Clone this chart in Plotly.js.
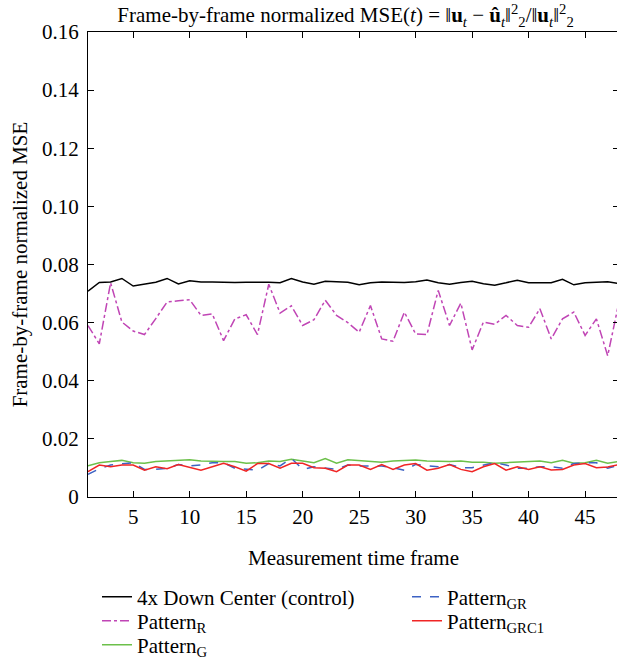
<!DOCTYPE html>
<html>
<head>
<meta charset="utf-8">
<script src="https://cdn.plot.ly/plotly-3.0.1.min.js"></script>
<style>
html,body{margin:0;padding:0;overflow:hidden;background:#fff;}
#chart{width:630px;height:690px;}
</style>
</head>
<body>
<div id="chart"></div>
<script>
// ---- data ----
const frames = [1,2,3,4,5,6,7,8,9,10,11,12,13,14,15,16,17,18,19,20,21,22,23,24,25,26,27,28,29,30,31,32,33,34,35,36,37,38,39,40,41,42,43,44,45,46,47,48];

const downCenter = [0.0708,0.0738,0.0740,0.0752,0.0726,0.0733,0.0739,0.0752,0.0733,0.0744,
  0.0740,0.0740,0.0738,0.0738,0.0739,0.0740,0.0739,0.0737,0.0752,0.0740,
  0.0732,0.0742,0.0740,0.0739,0.0730,0.0737,0.0740,0.0738,0.0738,0.0741,
  0.0747,0.0737,0.0732,0.0738,0.0742,0.0734,0.0729,0.0737,0.0746,0.0737,
  0.0737,0.0737,0.0749,0.0730,0.0737,0.0740,0.0741,0.0734];

const patternR = [0.0590,0.0527,0.0737,0.0602,0.0571,0.0559,0.0614,0.0671,0.0675,0.0679,
  0.0625,0.0630,0.0538,0.0613,0.0627,0.0559,0.0732,0.0633,0.0658,0.0590,
  0.0610,0.0677,0.0625,0.0600,0.0567,0.0659,0.0544,0.0536,0.0636,0.0561,
  0.0559,0.0711,0.0590,0.0667,0.0506,0.0602,0.0594,0.0625,0.0590,0.0584,
  0.0648,0.0544,0.0613,0.0636,0.0556,0.0613,0.0486,0.0671];

const patternG = [0.0107,0.0118,0.0122,0.0126,0.0118,0.0116,0.0122,0.0124,0.0124,0.0128,
  0.0124,0.0122,0.0122,0.0122,0.0116,0.0118,0.0124,0.0122,0.0130,0.0124,
  0.0118,0.0132,0.0116,0.0128,0.0126,0.0124,0.0120,0.0124,0.0126,0.0127,
  0.0124,0.0122,0.0122,0.0124,0.0120,0.0120,0.0116,0.0118,0.0120,0.0120,
  0.0124,0.0118,0.0126,0.0116,0.0118,0.0126,0.0116,0.0122];

const patternGR = [0.0078,0.0097,0.0110,0.0115,0.0118,0.0095,0.0095,0.0099,0.0112,0.0107,
  0.0110,0.0118,0.0118,0.0099,0.0095,0.0092,0.0115,0.0107,0.0133,0.0095,
  0.0104,0.0099,0.0095,0.0110,0.0107,0.0107,0.0107,0.0101,0.0092,0.0112,
  0.0107,0.0104,0.0112,0.0101,0.0101,0.0110,0.0118,0.0110,0.0099,0.0099,
  0.0104,0.0104,0.0099,0.0115,0.0118,0.0118,0.0099,0.0110];

const patternGRC1 = [0.0087,0.0110,0.0104,0.0110,0.0110,0.0092,0.0104,0.0097,0.0112,0.0103,
  0.0092,0.0104,0.0116,0.0104,0.0089,0.0115,0.0115,0.0099,0.0116,0.0116,
  0.0101,0.0099,0.0087,0.0110,0.0110,0.0095,0.0112,0.0095,0.0110,0.0115,
  0.0092,0.0099,0.0112,0.0095,0.0087,0.0104,0.0115,0.0092,0.0104,0.0095,
  0.0104,0.0093,0.0095,0.0110,0.0115,0.0101,0.0103,0.0112];

const xTickVals = [5,10,15,20,25,30,35,40,45];
const xTickText = ['5','10','15','20','25','30','35','40','45'];
const yTickVals = [0,0.02,0.04,0.06,0.08,0.10,0.12,0.14,0.16];
const yTickText = ['0','0.02','0.04','0.06','0.08','0.10','0.12','0.14','0.16'];

const FONT = 'Liberation Serif';
const FS = 21;
const f = () => ({family: FONT, size: FS, color: '#000'});

const traces = [
  {x: frames, y: patternG, name: 'Pattern<sub>G</sub>', mode: 'lines',
   line: {color: '#6cc04a', width: 1.5}, legend: 'legend3'},
  {x: frames, y: patternGR, name: 'Pattern<sub>GR</sub>', mode: 'lines',
   line: {color: '#3d62c4', width: 1.5, dash: 'dash'}, legend: 'legend4'},
  {x: frames, y: patternGRC1, name: 'Pattern<sub>GRC1</sub>', mode: 'lines',
   line: {color: '#f02525', width: 1.5}, legend: 'legend5'},
  {x: frames, y: patternR, name: 'Pattern<sub>R</sub>', mode: 'lines',
   line: {color: '#c045b5', width: 1.5, dash: 'dashdot'}, legend: 'legend2'},
  {x: frames, y: downCenter, name: '4x Down Center (control)', mode: 'lines',
   line: {color: '#000000', width: 1.5}, legend: 'legend'}
];

// figure is slightly taller than the visible window so the bottom legend row never forces a margin push
const H = 690, T = 32, B = 193, L = 88, R = 11, W = 630;
const plotH = H - T - B, plotW = W - L - R;
const px2x = (px) => (px - L) / plotW;
const py2y = (py) => (H - B - py) / plotH;

function leg(px, py) {
  return {x: px2x(px), xanchor: 'left', y: py2y(py), yanchor: 'middle',
          orientation: 'v', bgcolor: 'rgba(0,0,0,0)', font: f()};
}

const layout = {
  width: W, height: H,
  margin: {l: L, r: R, t: T, b: B},
  paper_bgcolor: '#fff', plot_bgcolor: '#fff',
  font: f(),
  title: {
    text: 'Frame-by-frame normalized MSE(<i>t</i>) = ‖<b>u</b><sub><i>t</i></sub> − <b>û</b><sub><i>t</i></sub>‖<sup>2</sup><sub>2</sub>/‖<b>u</b><sub><i>t</i></sub>‖<sup>2</sup><sub>2</sub>',
    font: f(),
    xref: 'paper', x: 0.485, xanchor: 'center',
    yref: 'container', y: 1 - 15 / H, yanchor: 'middle'
  },
  xaxis: {
    range: [1, 48], tickvals: xTickVals, ticktext: xTickText,
    ticks: 'inside', ticklen: 6, tickwidth: 1, tickcolor: '#000',
    showline: true, linecolor: '#000', linewidth: 1, mirror: 'ticks',
    showgrid: false, zeroline: false, ticklabelstandoff: 1,
    tickfont: f(),
    title: {text: 'Measurement time frame', font: f(), standoff: 22}
  },
  yaxis: {
    range: [0, 0.16], tickvals: yTickVals, ticktext: yTickText,
    ticks: 'inside', ticklen: 6, tickwidth: 1, tickcolor: '#000',
    showline: true, linecolor: '#000', linewidth: 1, mirror: 'ticks',
    showgrid: false, zeroline: false, ticklabelstandoff: 4,
    tickfont: f(),
    title: {text: 'Frame-by-frame normalized MSE', font: f(), standoff: 8}
  },
  legend:  leg(97, 597),
  legend2: leg(97, 621),
  legend3: leg(97, 645),
  legend4: leg(407, 597),
  legend5: leg(407, 621),
  showlegend: true
};

Plotly.newPlot('chart', traces, layout, {displayModeBar: false, staticPlot: true});
</script>
</body>
</html>
